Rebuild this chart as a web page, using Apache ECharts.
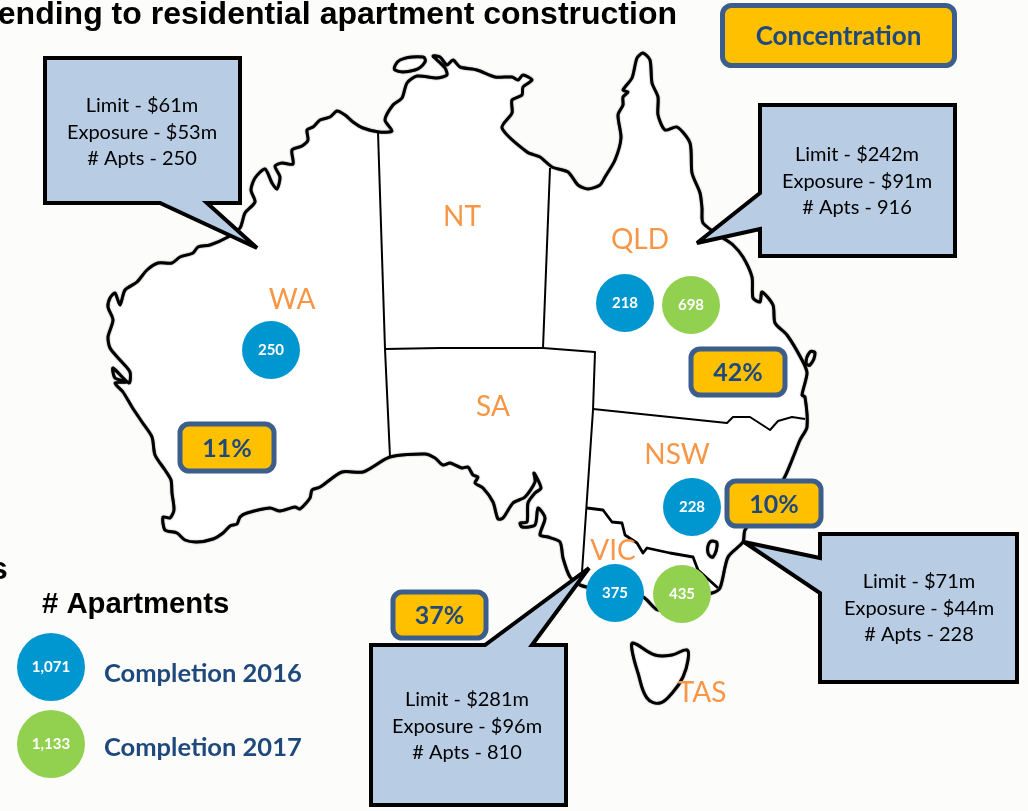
<!DOCTYPE html>
<html>
<head>
<meta charset="utf-8">
<style>
  html, body { margin: 0; padding: 0; background: #fcfcfa; overflow: hidden; }
  #main { width: 1028px; height: 811px; }
</style>
<script src="https://cdn.jsdelivr.net/npm/echarts@6/dist/echarts.min.js"></script>
</head>
<body>
<div id="main"></div>
<script>
// values
const calloutStates = ['WA', 'QLD', 'NSW', 'VIC'];
const limits = [61, 242, 71, 281];
const exposures = [53, 91, 44, 96];
const apts = [250, 916, 228, 810];
const concentration = ['11%', '42%', '10%', '37%'];
const completion2016 = [250, 218, 228, 375];
const completion2017 = [698, 435];
const total2016 = 1071;
const total2017 = 1133;
const stateLabels = ['WA', 'NT', 'QLD', 'SA', 'NSW', 'VIC', 'TAS'];

// layout in page pixels
const statePos = [[292, 300], [462, 217], [640, 240], [493, 407], [677, 455], [613, 551], [702, 693]];
const pos2016 = [[271, 350], [625, 303], [692, 507], [615, 593]];
const pos2017 = [[691, 305], [682, 594]];
const concBoxes = [[180, 424, 94, 47], [691, 349, 94, 46], [727, 481, 94, 45], [393, 592, 93, 46]];
const calloutShapes = [
  [[45, 58], [240, 58], [240, 203], [207, 203], [257, 248], [160, 203], [45, 203]],
  [[760, 105], [955, 105], [955, 256], [760, 256], [760, 229], [697, 243], [760, 193]],
  [[820, 534], [1017, 534], [1017, 682], [820, 682], [820, 593], [744, 542], [820, 558]],
  [[371, 645], [485, 645], [589, 568], [532, 645], [566, 645], [566, 805], [371, 805]]
];
const calloutText = [[142, 106], [857, 155], [919, 582], [467, 700]];

const mainland = [
  [379,132],[363,128],[353,122],[345,115],[337,111],[330,117],[320,120],[313,127],[307,130],[308,140],[302,146],[292,150],
  [293,164],[282,163],[275,166],[280,177],[277,189],[272,183],[265,169],[255,178],[251,190],[255,202],[245,213],[240,228],
  [228,237],[210,245],[198,247],[193,253],[180,257],[172,263],[158,263],[147,270],[137,282],[125,290],[120,305],[115,293],
  [110,298],[108,307],[113,320],[108,337],[110,348],[120,360],[130,372],[129,383],[113,368],[115,378],[127,382],[115,383],
  [123,392],[132,407],[142,422],[152,437],[155,455],[165,470],[171,480],[172,493],[174,510],[170,518],[163,517],[165,530],
  [177,533],[185,540],[197,542],[213,539],[223,533],[230,526],[237,524],[240,517],[247,513],[270,508],[280,511],[295,507],
  [300,509],[310,498],[312,490],[320,487],[342,472],[363,472],[390,457],[425,454],[435,458],[443,465],[450,463],[462,468],
  [468,467],[473,475],[478,477],[475,483],[483,488],[493,502],[498,519],[503,518],[513,503],[525,497],[535,482],[534,473],
  [541,488],[535,493],[528,503],[527,522],[520,523],[522,527],[535,525],[538,508],[545,518],[540,535],[548,537],[560,542],
  [563,558],[570,577],[580,585],[600,590],[643,597],[658,610],[680,600],[712,593],[720,588],[728,557],[743,542],[745,530],
  [783,480],[792,460],[800,440],[807,427],[805,397],[802,395],[807,373],[802,360],[787,335],[775,323],[773,305],[762,292],
  [760,302],[753,298],[752,277],[743,257],[733,245],[723,238],[703,223],[702,208],[700,193],[692,173],[690,143],[677,127],
  [665,130],[658,115],[658,97],[652,83],[650,60],[643,53],[637,58],[632,78],[623,90],[628,92],[623,97],[623,105],[618,115],
  [621,138],[615,160],[605,177],[600,185],[588,189],[578,185],[568,172],[552,167],[540,157],[527,152],[502,128],[512,113],
  [512,100],[522,95],[523,87],[532,80],[523,75],[518,80],[512,77],[495,77],[477,70],[460,67],[453,60],[447,65],[440,57],
  [433,56],[437,60],[445,68],[447,75],[437,78],[417,76],[407,83],[402,98],[393,105],[385,120],[392,131]
];
const islands = [
  [[395,70],[400,60],[423,57],[425,62],[415,70]],
  [[633,643],[655,655],[672,655],[687,650],[688,660],[683,677],[673,692],[660,703],[647,698],[638,673],[632,650]],
  [[710,542],[717,543],[713,557],[708,553]],
  [[810,352],[815,353],[810,365],[806,363]]
];
const borders = [
  [[378,132],[385,349],[390,457]],
  [[550,168],[543,348]],
  [[385,349],[440,348],[543,348],[595,352],[593,410],[582,572]],
  [[593,409],[727,423],[733,417],[750,417],[767,428],[770,430],[778,421],[792,417],[805,419]],
  [[587,508],[603,510],[612,522],[622,523],[625,535],[637,543],[643,553],[647,548],[670,553],[693,557],[698,570],[718,588]]
];

const graphics = [];
const lineFont = 'Lato, sans-serif';
const headFont = '"Liberation Sans", Arial, sans-serif';

function addText(x, y, text, font, fill, align, z) {
  graphics.push({
    type: 'text', x: x, y: y, z: z || 20,
    style: { text: text, font: font, fill: fill, align: align || 'center', verticalAlign: 'middle' }
  });
}

function addBox(x, y, w, h, text, font) {
  graphics.push({
    type: 'rect', z: 12,
    shape: { x: x, y: y, width: w, height: h, r: 9 },
    style: { fill: '#ffc000', stroke: '#3b5e8c', lineWidth: 5 }
  });
  addText(x + w / 2, y + h / 2 + 1, text, font, '#1f497d');
}

// map
const coastStyle = { fill: '#fff', stroke: '#000', lineWidth: 3, lineJoin: 'round', shadowBlur: 1.5, shadowColor: 'rgba(0,0,0,0.6)' };
graphics.push({
  type: 'polygon', z: 1, shape: { points: mainland, smooth: 0.25 },
  style: coastStyle
});
islands.forEach(function (pts) {
  graphics.push({
    type: 'polygon', z: 1, shape: { points: pts, smooth: 0.4 },
    style: coastStyle
  });
});
borders.forEach(function (pts, i) {
  graphics.push({
    type: 'polyline', z: 2, shape: { points: pts },
    style: { fill: null, stroke: '#000', lineWidth: i === 4 ? 2.8 : 2, lineJoin: 'round' }
  });
});

// callouts
calloutShapes.forEach(function (pts, i) {
  graphics.push({
    type: 'polygon', z: 10, shape: { points: pts },
    style: { fill: '#b8cce4', stroke: '#000', lineWidth: 4, lineJoin: 'miter', miterLimit: 3 }
  });
  const lines = ['Limit - $' + limits[i] + 'm', 'Exposure - $' + exposures[i] + 'm', '# Apts - ' + apts[i]];
  lines.forEach(function (t, k) {
    addText(calloutText[i][0], calloutText[i][1] + k * 26.5, t, '20px ' + lineFont, '#000');
  });
});

// concentration boxes
concBoxes.forEach(function (b, i) {
  addBox(b[0], b[1], b[2], b[3], concentration[i], 'bold 25px ' + lineFont);
});
addBox(722.5, 5.5, 232, 60, 'Concentration', 'bold 26px ' + lineFont);

stateLabels.forEach(function (s, i) {
  addText(statePos[i][0], statePos[i][1], s, '28px ' + lineFont, '#f79646');
});

// headings and legend text
addText(677, 15, 'ending to residential apartment construction', 'bold 32px ' + headFont, '#000', 'right');
addText(-10, 570, 's', 'bold 32px ' + headFont, '#000', 'left');
addText(42, 605, '# Apartments', 'bold 29.3px ' + headFont, '#000', 'left');
addText(104, 674, 'Completion 2016', 'bold 25.5px ' + lineFont, '#1f497d', 'left');
addText(104, 748, 'Completion 2017', 'bold 25.5px ' + lineFont, '#1f497d', 'left');

function points(positions, values) {
  return values.map(function (v, i) {
    return [positions[i][0], positions[i][1], v];
  });
}

function bubbleSeries(name, color, data, size, fontSize) {
  return {
    name: name,
    type: 'scatter',
    z: 15,
    symbolSize: size,
    data: data,
    itemStyle: { color: color, opacity: 1 },
    label: {
      show: true,
      position: 'inside',
      color: '#fff',
      fontFamily: lineFont,
      fontWeight: 'bold',
      fontSize: fontSize,
      formatter: function (p) { return p.value[2].toLocaleString('en-US'); }
    },
    silent: true
  };
}

const option = {
  backgroundColor: '#fcfcfa',
  animation: false,
  grid: { left: 0, right: 0, top: 0, bottom: 0 },
  xAxis: { type: 'value', min: 0, max: 1028, show: false },
  yAxis: { type: 'value', min: 0, max: 811, inverse: true, show: false },
  graphic: { elements: graphics },
  series: [
    bubbleSeries('Completion 2016', '#0096d0', points(pos2016, completion2016), 58, 15),
    bubbleSeries('Completion 2017', '#92d050', points(pos2017, completion2017), 58, 15),
    bubbleSeries('Total 2016', '#0096d0', [[51, 667, total2016]], 68, 15),
    bubbleSeries('Total 2017', '#92d050', [[51, 744, total2017]], 68, 15)
  ]
};

const myChart = echarts.init(document.getElementById('main'));
myChart.setOption(option);
</script>
</body>
</html>
